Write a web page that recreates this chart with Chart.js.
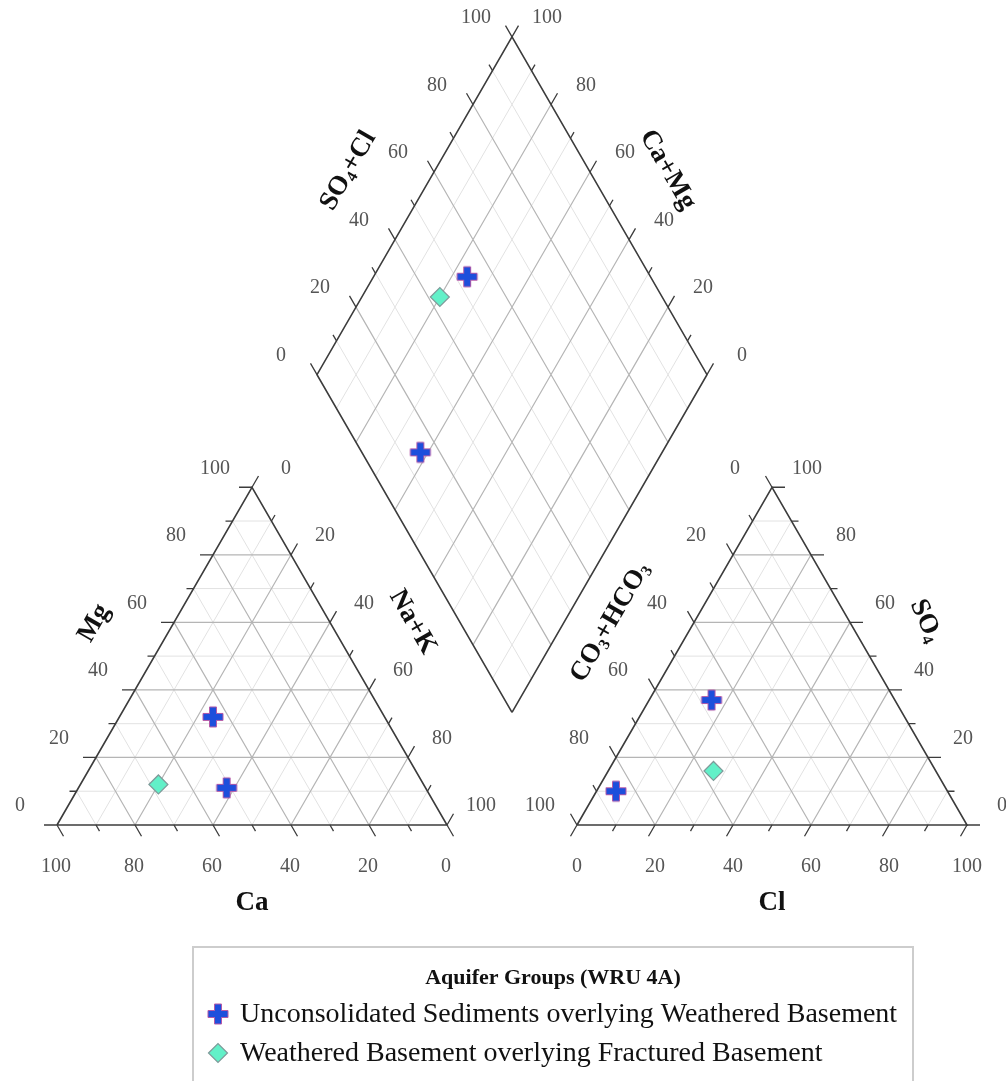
<!DOCTYPE html>
<html><head><meta charset="utf-8">
<script src="https://cdn.jsdelivr.net/npm/chart.js@4.4.1/dist/chart.umd.min.js"></script>
<style>html,body{margin:0;padding:0;background:#fff;overflow:hidden}#wrap{width:1006px;height:1081px;position:relative}canvas{display:block}</style>
</head><body><div id="wrap"><canvas id="c" width="1006" height="1081"></canvas></div>
<script>
// ---------------- DATA ----------------
const groupNames = ['Unconsolidated Sediments overlying Weathered Basement',
                    'Weathered Basement overlying Fractured Basement'];
const legendTitle = 'Aquifer Groups (WRU 4A)';
const sampleGroup = [0, 0, 1];
// cations, % meq/L
const caPct   = [44, 51, 68];
const mgPct   = [32, 11, 12];
const naKPct  = [24, 38, 20];
// anions, % meq/L
const clPct   = [16, 5, 27];
const so4Pct  = [37, 10, 16];
const hco3Pct = [47, 85, 57];
const tickLabelValues = [0, 20, 40, 60, 80, 100];
const tickValues = [0, 10, 20, 30, 40, 50, 60, 70, 80, 90, 100];
const gridValues = [10, 20, 30, 40, 50, 60, 70, 80, 90];

// ---------------- GEOMETRY (layout) ----------------
const W = 1006, HGT = 1081;
const S = 390, TH = S * Math.sqrt(3) / 2, BASE = 825, XL = 57, GAP = 130, XR = XL + S + GAP;
const DBX = XL + S + GAP / 2, DBY = BASE - GAP * Math.sqrt(3) / 2;
const cat = (ca, mg, nak) => ({x: XL + S * (nak + mg / 2) / 100, y: BASE - TH * mg / 100});
const an  = (cl, so4, co3) => ({x: XR + S * (cl + so4 / 2) / 100, y: BASE - TH * so4 / 100});
const dia = (camg, so4cl) => ({x: DBX + S / 2 * (so4cl - camg) / 100, y: DBY - TH * (camg + so4cl) / 100});
const R3 = Math.sqrt(3) / 2;

const majorGrid = [], minorGrid = [], edges = [], ticks = [];
function seg(arr, a, b) { arr.push({x: a.x, y: a.y}, {x: b.x, y: b.y}, {x: null, y: null}); }
gridValues.forEach(v => {
  const arr = v % 20 === 0 ? majorGrid : minorGrid;
  seg(arr, cat(100 - v, v, 0), cat(0, v, 100 - v));
  seg(arr, cat(100 - v, 0, v), cat(0, 100 - v, v));
  seg(arr, cat(v, 0, 100 - v), cat(v, 100 - v, 0));
  seg(arr, an(100 - v, v, 0), an(0, v, 100 - v));
  seg(arr, an(v, 0, 100 - v), an(v, 100 - v, 0));
  seg(arr, an(0, 100 - v, v), an(100 - v, 0, v));
  seg(arr, dia(v, 0), dia(v, 100));
  seg(arr, dia(0, v), dia(100, v));
});
function poly(arr, pts) { pts.forEach(p => arr.push({x: p.x, y: p.y})); arr.push({x: pts[0].x, y: pts[0].y}, {x: null, y: null}); }
poly(edges, [cat(100, 0, 0), cat(0, 0, 100), cat(0, 100, 0)]);
poly(edges, [an(0, 0, 100), an(100, 0, 0), an(0, 100, 0)]);
poly(edges, [dia(0, 0), dia(0, 100), dia(100, 100), dia(100, 0)]);

const tickAxes = [
  {f: v => cat(v, 0, 100 - v), d: [0.5, R3]},
  {f: v => cat(100 - v, v, 0), d: [-1, 0]},
  {f: v => cat(0, 100 - v, v), d: [0.5, -R3]},
  {f: v => an(v, 0, 100 - v), d: [-0.5, R3]},
  {f: v => an(100 - v, v, 0), d: [1, 0]},
  {f: v => an(0, 100 - v, v), d: [-0.5, -R3]},
  {f: v => dia(100, v), d: [-0.5, -R3]},
  {f: v => dia(v, 100), d: [0.5, -R3]}
];
tickAxes.forEach(ax => tickValues.forEach(v => {
  const p = ax.f(v), L = v % 20 === 0 ? 13 : 7;
  seg(ticks, p, {x: p.x + ax.d[0] * L, y: p.y + ax.d[1] * L});
}));

const labelAxes = [
  {f: v => cat(v, 0, 100 - v), o: [-1, 42]},
  {f: v => cat(100 - v, v, 0), o: [-37, -19]},
  {f: v => cat(0, 100 - v, v), o: [34, -19]},
  {f: v => an(v, 0, 100 - v), o: [0, 42]},
  {f: v => an(100 - v, v, 0), o: [35, -19]},
  {f: v => an(0, 100 - v, v), o: [-37, -19]},
  {f: v => dia(100, v), o: [-36, -19]},
  {f: v => dia(v, 100), o: [35, -19]}
];

const titles = [
  {parts: [['Ca']], at: () => cat(50, 0, 50), o: [0, 76], rot: 0},
  {parts: [['Cl']], at: () => an(50, 0, 50), o: [0, 76], rot: 0},
  {parts: [['Mg']], at: () => cat(50, 50, 0), o: [-62, -34], rot: -60},
  {parts: [['Na+K']], at: () => cat(0, 50, 50), o: [65, -35], rot: 60},
  {parts: [['SO'], ['4', 1], ['+Cl']], at: () => dia(100, 50), o: [-68, -36], rot: -60},
  {parts: [['Ca+Mg']], at: () => dia(50, 100), o: [60, -37], rot: 60},
  {parts: [['CO'], ['3', 1], ['+HCO'], ['3', 1]], at: () => an(0, 50, 50), o: [-66, -35], rot: -60},
  {parts: [['SO'], ['4', 1]], at: () => an(50, 50, 0), o: [58, -36], rot: 66}
];

// ---------------- MARKERS ----------------
function makeCross() {
  const c = document.createElement('canvas'); c.width = 24; c.height = 24;
  const g = c.getContext('2d'), a = 3.5, L = 10, m = 12;
  g.beginPath();
  [[m - a, m - L], [m + a, m - L], [m + a, m - a], [m + L, m - a], [m + L, m + a], [m + a, m + a],
   [m + a, m + L], [m - a, m + L], [m - a, m + a], [m - L, m + a], [m - L, m - a], [m - a, m - a]]
    .forEach((p, i) => i ? g.lineTo(p[0], p[1]) : g.moveTo(p[0], p[1]));
  g.closePath();
  g.fillStyle = '#1d4fdc'; g.fill();
  g.strokeStyle = '#b45aa8'; g.lineWidth = 1; g.stroke();
  return c;
}
const crossImg = makeCross();
const groupStyle = [
  {pointStyle: crossImg, pointRadius: 10, backgroundColor: '#1d4fdc', borderColor: '#b45aa8', borderWidth: 1},
  {pointStyle: 'rectRot', pointRadius: 9.5, backgroundColor: '#62f0c8', borderColor: '#7f9a9a', borderWidth: 1.2}
];
const markerData = groupNames.map(() => []);
caPct.forEach((ca, i) => {
  const g = sampleGroup[i];
  markerData[g].push(cat(ca, mgPct[i], naKPct[i]));
  markerData[g].push(an(clPct[i], so4Pct[i], hco3Pct[i]));
  markerData[g].push(dia(ca + mgPct[i], so4Pct[i] + clPct[i]));
});

const lineDs = (label, data, color, width, order) => ({
  type: 'line', label, data, borderColor: color, borderWidth: width, pointRadius: 0,
  fill: false, spanGaps: false, tension: 0, order
});
const datasets = [
  ...groupNames.map((n, g) => Object.assign({type: 'scatter', label: n, data: markerData[g], order: 1}, groupStyle[g])),
  lineDs('ticks', ticks, '#3c3c3c', 1.3, 5),
  lineDs('edges', edges, '#3c3c3c', 1.6, 6),
  lineDs('major', majorGrid, '#b5b5b5', 1.2, 8),
  lineDs('minor', minorGrid, '#e2e2e2', 1, 9)
];

// ---------------- TEXT PLUGIN ----------------
const FONT = '"Liberation Serif", "Times New Roman", serif';
const textPlugin = {
  id: 'piperText',
  afterDraw(chart) {
    const ctx = chart.ctx, sx = chart.scales.x, sy = chart.scales.y;
    const px = p => ({x: sx.getPixelForValue(p.x), y: sy.getPixelForValue(p.y)});
    ctx.save();
    ctx.fillStyle = '#555'; ctx.font = '20px ' + FONT;
    ctx.textAlign = 'center'; ctx.textBaseline = 'middle';
    labelAxes.forEach(ax => tickLabelValues.forEach(v => {
      const p = px(ax.f(v));
      ctx.fillText(String(v), p.x + ax.o[0], p.y + ax.o[1]);
    }));
    // axis titles
    ctx.fillStyle = '#111';
    titles.forEach(t => {
      const a = px(t.at());
      const big = 'bold 27px ' + FONT, small = 'bold 16px ' + FONT;
      let total = 0;
      t.parts.forEach(pt => { ctx.font = pt[1] ? small : big; total += ctx.measureText(pt[0]).width; });
      ctx.save();
      ctx.translate(a.x + t.o[0], a.y + t.o[1]);
      ctx.rotate(t.rot * Math.PI / 180);
      ctx.textAlign = 'left'; ctx.textBaseline = 'alphabetic';
      let x = -total / 2;
      t.parts.forEach(pt => {
        ctx.font = pt[1] ? small : big;
        ctx.fillText(pt[0], x, pt[1] ? 13 : 9);
        x += ctx.measureText(pt[0]).width;
      });
      ctx.restore();
    });
    // legend box
    ctx.strokeStyle = '#cdcdcd'; ctx.lineWidth = 2;
    ctx.strokeRect(193, 947, 720, 200);
    ctx.fillStyle = '#111'; ctx.textAlign = 'center'; ctx.textBaseline = 'middle';
    ctx.font = 'bold 22px ' + FONT;
    ctx.fillText(legendTitle, 553, 978);
    ctx.textAlign = 'left'; ctx.font = '28px ' + FONT;
    groupNames.forEach((n, g) => {
      const y = 1014 + g * 39, st = groupStyle[g];
      if (g === 0) ctx.drawImage(crossImg, 218 - 12, y - 12);
      else {
        ctx.fillStyle = st.backgroundColor; ctx.strokeStyle = st.borderColor; ctx.lineWidth = st.borderWidth;
        Chart.helpers.drawPoint(ctx, {pointStyle: 'rectRot', radius: st.pointRadius, borderWidth: st.borderWidth, rotation: 0}, 218, y);
      }
      ctx.fillStyle = '#111';
      ctx.fillText(n, 240, y + 1);
    });
    ctx.restore();
  }
};

new Chart(document.getElementById('c'), {
  type: 'scatter',
  data: {datasets},
  options: {
    responsive: false, animation: false, devicePixelRatio: 1,
    layout: {padding: 0, autoPadding: false},
    scales: {
      x: {type: 'linear', min: 0, max: W, display: false},
      y: {type: 'linear', min: 0, max: HGT, reverse: true, display: false}
    },
    plugins: {legend: {display: false}, tooltip: {enabled: false}}
  },
  plugins: [textPlugin]
});
</script></body></html>
